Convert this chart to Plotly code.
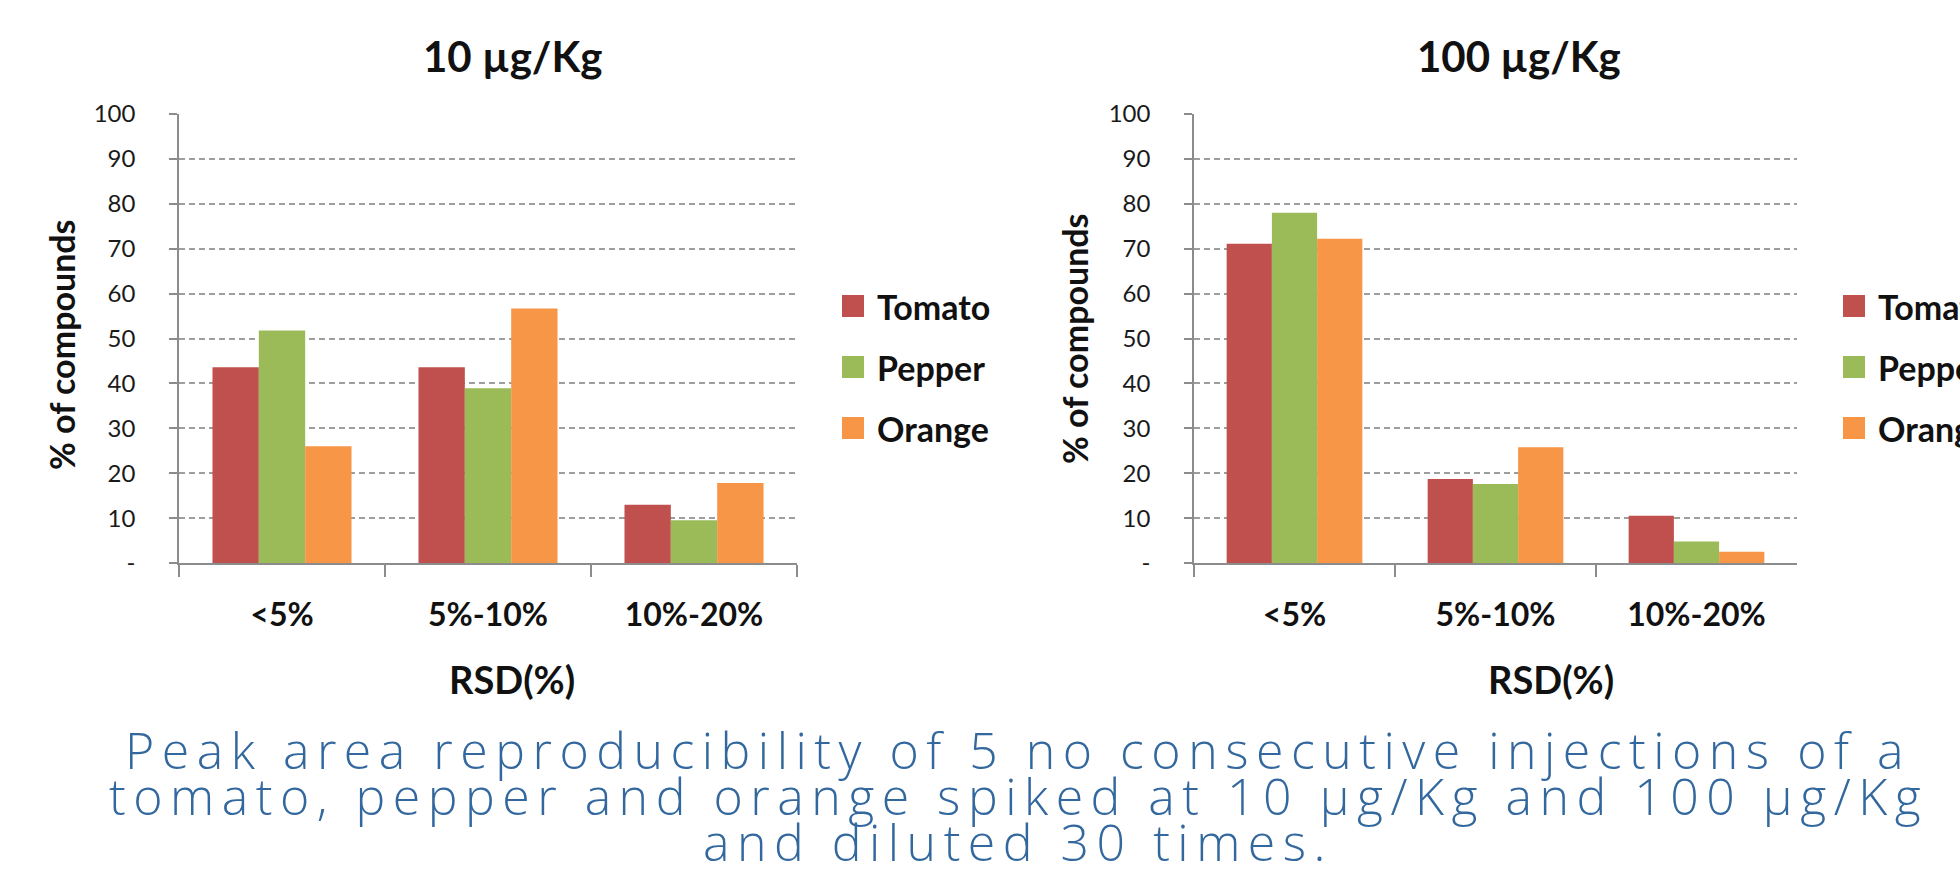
import plotly.graph_objects as go

# RSD classes on the x axis
categories = ["<5%", "5%-10%", "10%-20%"]

# % of compounds per RSD class, spiked at 10 µg/Kg
tomato_10 = [43.6, 43.6, 13.0]
pepper_10 = [51.8, 38.9, 9.5]
orange_10 = [26.0, 56.7, 17.8]

# % of compounds per RSD class, spiked at 100 µg/Kg
tomato_100 = [71.1, 18.7, 10.5]
pepper_100 = [78.0, 17.6, 4.8]
orange_100 = [72.2, 25.8, 2.5]

series_names = ["Tomato", "Pepper", "Orange"]
colors = ["#C0504D", "#9BBB59", "#F79646"]

y_ticks = [0, 10, 20, 30, 40, 50, 60, 70, 80, 90, 100]
y_ticktext = ["-", "10", "20", "30", "40", "50", "60", "70", "80", "90", "100"]

W, H = 1960, 891
FONT = "Lato"
GRID = "#9E9E9E"
AXIS = "#8C8C8C"


def px(x):
    return x / W


def py(y):
    return 1 - y / H


fig = go.Figure()

panels = [
    ("x", "y", [tomato_10, pepper_10, orange_10]),
    ("x2", "y2", [tomato_100, pepper_100, orange_100]),
]
for xa, ya, values in panels:
    for name, vals, col in zip(series_names, values, colors):
        fig.add_trace(go.Bar(
            x=categories, y=vals, name=name, xaxis=xa, yaxis=ya,
            marker=dict(color=col, line=dict(width=0)),
            showlegend=False,
        ))

xaxis_common = dict(
    type="category", automargin=False,
    showline=True, linecolor=AXIS, linewidth=1.5,
    ticks="outside", tickson="boundaries", ticklen=12, tickcolor=AXIS, tickwidth=1.5,
    tickfont=dict(family=FONT, size=32, color="#111111", weight="bold"),
    ticklabelstandoff=23,
    showgrid=False, zeroline=False, fixedrange=True,
)
yaxis_common = dict(
    range=[0, 100], tickvals=y_ticks, ticktext=y_ticktext, automargin=False,
    showline=True, linecolor=AXIS, linewidth=1.5,
    ticks="outside", ticklen=8, tickcolor=AXIS, tickwidth=1.5,
    tickfont=dict(family=FONT, size=24, color="#1A1A1A"),
    ticklabelstandoff=29,
    showgrid=True, gridcolor=GRID, gridwidth=1.5, griddash="6px,4px",
    zeroline=False, fixedrange=True,
)

fig.update_layout(
    width=W, height=H,
    margin=dict(l=0, r=0, t=0, b=0, autoexpand=False),
    paper_bgcolor="white", plot_bgcolor="white",
    barmode="group", bargap=0.325, bargroupgap=0,
    showlegend=False,
    xaxis=dict(domain=[px(179), px(797)], anchor="y", **xaxis_common),
    yaxis=dict(domain=[py(563), py(114)], anchor="x", **yaxis_common),
    xaxis2=dict(domain=[px(1194), px(1797)], anchor="y2", **xaxis_common),
    yaxis2=dict(domain=[py(563), py(114)], anchor="x2", **yaxis_common),
)

annotations = []
shapes = []


def text(x, y, s, size, bold=True, angle=0, color="#111111", xanchor="center",
         weight=None, family=FONT):
    w = weight if weight is not None else ("bold" if bold else "normal")
    annotations.append(dict(
        x=px(x), y=py(y), xref="paper", yref="paper", text=s, showarrow=False,
        xanchor=xanchor, yanchor="middle", textangle=angle,
        font=dict(family=family, size=size, color=color, weight=w),
    ))


# Chart titles
text(512, 56, "10 µg/Kg", 42)
text(1519, 56, "100 µg/Kg", 42)

# Axis titles
text(61, 345, "% of compounds", 34, angle=-90)
text(1075, 339, "% of compounds", 34, angle=-90)
text(512, 679, "RSD(%)", 38)
text(1551, 679, "RSD(%)", 38)

# Legends: colour swatch plus label for each series
for lx in (842, 1843):
    for i, (name, col) in enumerate(zip(series_names, colors)):
        cy = 306 + 61 * i
        shapes.append(dict(
            type="rect", xref="paper", yref="paper",
            x0=px(lx), x1=px(lx + 22), y0=py(cy + 11), y1=py(cy - 11),
            fillcolor=col, line=dict(width=0),
        ))
        text(lx + 33, cy, name, 34, xanchor="left")

# Caption below the charts, lightly tracked to give a wide geometric look
caption = [
    "Peak area reproducibility of 5 no consecutive injections of a",
    "tomato, pepper and orange spiked at 10 µg/Kg and 100 µg/Kg",
    "and diluted 30 times.",
]
for line, cy in zip(caption, [750, 796, 842]):
    text(1018, cy, '<span style="letter-spacing:7.5px">' + line + "</span>", 50,
         color="#33689E", weight=300, family="Open Sans")

fig.update_layout(annotations=annotations, shapes=shapes)

fig.write_html("out.html")
